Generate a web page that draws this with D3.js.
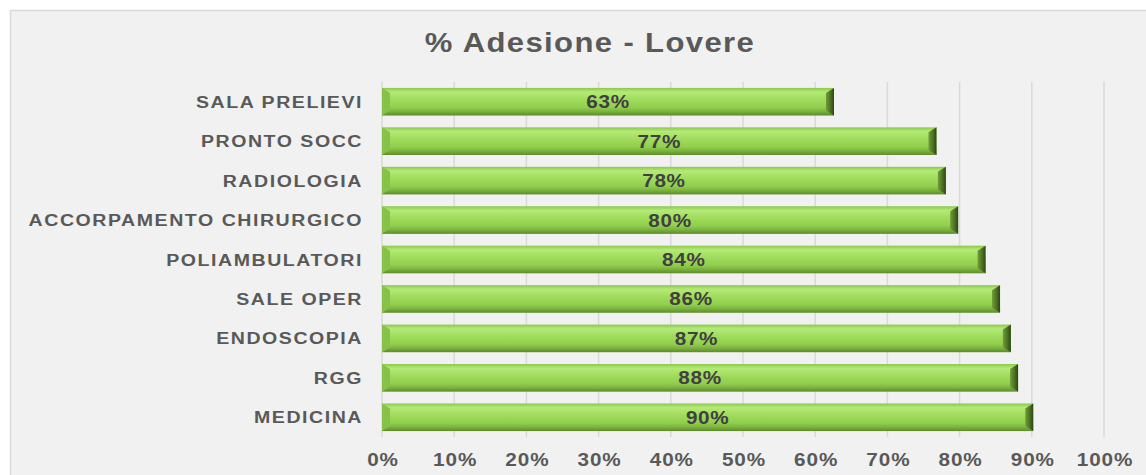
<!DOCTYPE html>
<html>
<head>
<meta charset="utf-8">
<script src="https://cdn.jsdelivr.net/npm/d3@7"></script>
<style>
  body { margin: 0; background: #fff; }
  text { font-family: "Liberation Sans", Arial, sans-serif; font-weight: bold; }
</style>
</head>
<body>
<svg id="chart" width="1146" height="475"></svg>
<script>
// data
const categories = ["SALA PRELIEVI", "PRONTO SOCC", "RADIOLOGIA", "ACCORPAMENTO CHIRURGICO",
  "POLIAMBULATORI", "SALE OPER", "ENDOSCOPIA", "RGG", "MEDICINA"];
const adesione = [0.626, 0.768, 0.781, 0.798, 0.836, 0.856, 0.871, 0.881, 0.902];
const ticks = [0, 0.1, 0.2, 0.3, 0.4, 0.5, 0.6, 0.7, 0.8, 0.9, 1.0];
const title = "% Adesione - Lovere";

const svg = d3.select("#chart");
const stretch = 1.15; // picture text looks a bit wide

// frame
svg.append("rect")
  .attr("x", 10.5).attr("y", 10.5)
  .attr("width", 1150).attr("height", 480)
  .attr("fill", "#f1f1f1")
  .attr("stroke", "#d9d9d9")
  .attr("stroke-width", 1.5);

const x = d3.scaleLinear().domain([0, 1]).range([382, 1104]);
const y = d3.scaleBand().domain(categories).range([82, 437]).paddingInner(0.3).paddingOuter(0.15);

function wideText(sel, px, py) {
  sel.attr("transform", `translate(${px},${py}) scale(${stretch},1)`);
}

// title
svg.append("text")
  .attr("text-anchor", "middle")
  .attr("font-size", 27)
  .attr("letter-spacing", 1.2)
  .attr("fill", "#595959")
  .text(title)
  .call(wideText, 590, 52);

// gridlines
svg.append("g")
  .selectAll("line")
  .data(ticks)
  .join("line")
  .attr("x1", d => x(d)).attr("x2", d => x(d))
  .attr("y1", 82).attr("y2", 437)
  .attr("stroke", "#d9d9d9")
  .attr("stroke-width", 1.5);

// tick labels
svg.append("g")
  .selectAll("text")
  .data(ticks)
  .join("text")
  .attr("text-anchor", "middle")
  .attr("font-size", 18)
  .attr("letter-spacing", 0.8)
  .attr("fill", "#595959")
  .text(d => d3.format(".0%")(d))
  .each(function(d) { d3.select(this).call(wideText, x(d) + 1, 466); });

// category labels
svg.append("g")
  .selectAll("text")
  .data(categories)
  .join("text")
  .attr("text-anchor", "end")
  .attr("font-size", 17)
  .attr("letter-spacing", 1.35)
  .attr("fill", "#595959")
  .text(d => d)
  .each(function(d) { d3.select(this).call(wideText, 363, y(d) + y.bandwidth() / 2 + 6); });

// bar gradients
const defs = svg.append("defs");
const grad = defs.append("linearGradient")
  .attr("id", "barGrad").attr("x1", 0).attr("y1", 0).attr("x2", 0).attr("y2", 1);
[[0, "#8cc84a"], [0.15, "#b4ea78"], [0.4, "#a2dd5e"], [0.7, "#92cf4e"], [0.85, "#7cb43e"], [1, "#5d8a2c"]]
  .forEach(([o, c]) => grad.append("stop").attr("offset", o).attr("stop-color", c));
const endGrad = defs.append("linearGradient")
  .attr("id", "endGrad").attr("x1", 0).attr("y1", 0).attr("x2", 1).attr("y2", 0);
[[0, "#6f9e38"], [0.6, "#4a6e22"], [1, "#2c4412"]]
  .forEach(([o, c]) => endGrad.append("stop").attr("offset", o).attr("stop-color", c));

const bars = svg.append("g")
  .selectAll("g")
  .data(categories.map((c, i) => ({ cat: c, v: adesione[i] })))
  .join("g");

const bev = 8;
bars.append("rect")
  .attr("x", x(0))
  .attr("y", d => y(d.cat))
  .attr("width", d => x(d.v) - x(0))
  .attr("height", y.bandwidth())
  .attr("fill", "url(#barGrad)");

// left bevel
bars.append("path")
  .attr("d", d => {
    const x0 = x(0), y0 = y(d.cat), h = y.bandwidth();
    return `M${x0},${y0}L${x0 + bev},${y0 + 5}L${x0 + bev},${y0 + h - 5}L${x0},${y0 + h}Z`;
  })
  .attr("fill", "#86c24a");

// right bevel
bars.append("path")
  .attr("d", d => {
    const x1 = x(d.v), y0 = y(d.cat), h = y.bandwidth();
    return `M${x1},${y0}L${x1 - bev},${y0 + 5}L${x1 - bev},${y0 + h - 5}L${x1},${y0 + h}Z`;
  })
  .attr("fill", "url(#endGrad)");

// value labels
bars.append("text")
  .attr("text-anchor", "middle")
  .attr("font-size", 18)
  .attr("letter-spacing", 0.6)
  .attr("fill", "#404040")
  .text(d => Math.round(d.v * 100) + "%")
  .each(function(d) {
    d3.select(this).call(wideText, (x(0) + x(d.v)) / 2, y(d.cat) + y.bandwidth() / 2 + 6.5);
  });
</script>
</body>
</html>
